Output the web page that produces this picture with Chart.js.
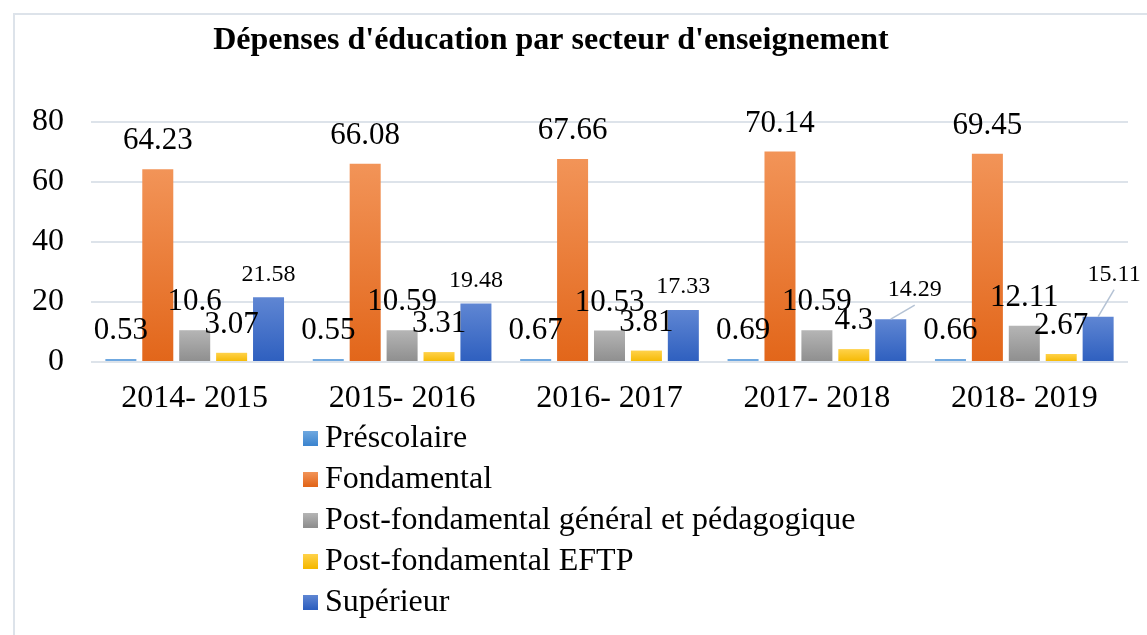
<!DOCTYPE html>
<html lang="fr">
<head>
    <meta charset="UTF-8">
    <title>Dépenses d'éducation par secteur d'enseignement</title>
    <script src="https://cdn.jsdelivr.net/npm/chart.js"></script>
    <style>
        html, body { margin: 0; padding: 0; background: #fff; }
        .chart-box { position: relative; width: 1147px; height: 635px; }
    </style>
</head>
<body>
    <div class="chart-box">
        <canvas id="depensesChart" width="1147" height="635"></canvas>
    </div>

    <script>
        // Data
        const years = ['2014- 2015', '2015- 2016', '2016- 2017', '2017- 2018', '2018- 2019'];
        const prescolaire = [0.53, 0.55, 0.67, 0.69, 0.66];
        const fondamental = [64.23, 66.08, 67.66, 70.14, 69.45];
        const postGeneral = [10.6, 10.59, 10.53, 10.59, 12.11];
        const postEftp = [3.07, 3.31, 3.81, 4.3, 2.67];
        const superieur = [21.58, 19.48, 17.33, 14.29, 15.11];
        const yTicks = [0, 20, 40, 60, 80];

        const seriesNames = ['Préscolaire', 'Fondamental', 'Post-fondamental général et pédagogique', 'Post-fondamental EFTP', 'Supérieur'];
        // [top colour, bottom colour] of each bar gradient
        const seriesColors = [
            ['#6fa8e0', '#3d85cf'],
            ['#f29458', '#e2661a'],
            ['#b5b5b5', '#8e8e8e'],
            ['#ffd24a', '#f5b800'],
            ['#5f86d3', '#2e5fbf']
        ];

        const SERIF = '"Liberation Serif", "Times New Roman", serif';

        // label moves for the two Supérieur values that carry a leader line
        const supLabelShift = [null, null, null, [24, -6], [16, -19]];

        function barGradient(i) {
            return function(ctx) {
                const chart = ctx.chart;
                const y = chart.scales && chart.scales.y;
                if (!y || ctx.dataIndex === undefined) return seriesColors[i][1];
                const v = ctx.dataset.data[ctx.dataIndex];
                const top = y.getPixelForValue(v);
                const base = y.getPixelForValue(0);
                if (!isFinite(top) || !isFinite(base) || base - top < 4) return seriesColors[i][0];
                const g = chart.ctx.createLinearGradient(0, top, 0, base);
                g.addColorStop(0, seriesColors[i][0]);
                g.addColorStop(1, seriesColors[i][1]);
                return g;
            };
        }

        const allSeries = [prescolaire, fondamental, postGeneral, postEftp, superieur];

        // frame, title, value labels and the vertical legend
        const decorPlugin = {
            id: 'decor',
            beforeDraw(chart) {
                const c = chart.ctx;
                c.save();
                c.strokeStyle = '#dde3ea';
                c.lineWidth = 2;
                c.beginPath();
                c.moveTo(14, chart.height);
                c.lineTo(14, 14);
                c.lineTo(chart.width, 14);
                c.stroke();
                c.restore();
            },
            afterDraw(chart) {
                const c = chart.ctx;
                c.save();

                // title
                c.fillStyle = '#000';
                c.font = 'bold 32px ' + SERIF;
                c.textAlign = 'center';
                c.textBaseline = 'alphabetic';
                c.fillText("Dépenses d'éducation par secteur d'enseignement", 551, 49);

                // value labels
                chart.data.datasets.forEach((ds, i) => {
                    const meta = chart.getDatasetMeta(i);
                    meta.data.forEach((bar, j) => {
                        const small = i === 4;
                        let x = bar.x;
                        let y = bar.y - (small ? 23 : 28);
                        const shift = small ? supLabelShift[j] : null;
                        if (shift) {
                            x += shift[0];
                            y += shift[1];
                            c.strokeStyle = '#b4c2d4';
                            c.lineWidth = 1.5;
                            c.beginPath();
                            c.moveTo(bar.x, bar.y);
                            c.lineTo(x, y + 15);
                            c.stroke();
                        }
                        c.font = (small ? '24px ' : '31px ') + SERIF;
                        c.fillStyle = '#000';
                        c.textAlign = 'center';
                        c.textBaseline = 'middle';
                        c.fillText(String(ds.data[j]), x, y);
                    });
                });

                // legend, one item per line
                c.font = '32px ' + SERIF;
                c.textAlign = 'left';
                c.textBaseline = 'middle';
                seriesNames.forEach((name, i) => {
                    const cy = 438 + i * 41;
                    const g = c.createLinearGradient(0, cy - 7, 0, cy + 7);
                    g.addColorStop(0, seriesColors[i][0]);
                    g.addColorStop(1, seriesColors[i][1]);
                    c.fillStyle = g;
                    c.fillRect(303, cy - 7, 15, 15);
                    c.fillStyle = '#000';
                    c.fillText(name, 325, cy + 1);
                });
                c.restore();
            }
        };

        new Chart(document.getElementById('depensesChart'), {
            type: 'bar',
            data: {
                labels: years,
                datasets: seriesNames.map((name, i) => ({
                    label: name,
                    data: allSeries[i],
                    backgroundColor: barGradient(i),
                    borderWidth: 0,
                    minBarLength: 3,
                    categoryPercentage: 0.89,
                    barPercentage: 0.84
                }))
            },
            options: {
                responsive: false,
                animation: false,
                layout: { padding: { top: 122, right: 19, bottom: 0, left: 0 } },
                plugins: {
                    legend: { display: false },
                    title: { display: false },
                    tooltip: { enabled: false }
                },
                scales: {
                    x: {
                        grid: { display: false, drawTicks: false },
                        border: { display: false },
                        ticks: {
                            color: '#000',
                            padding: 17,
                            font: { family: SERIF, size: 32 }
                        },
                        afterFit(scale) { scale.height = 273; }
                    },
                    y: {
                        min: 0,
                        max: 80,
                        afterBuildTicks(scale) {
                            scale.ticks = yTicks.map(v => ({ value: v }));
                        },
                        grid: { color: '#dde3ea', lineWidth: 2, drawTicks: false },
                        border: { display: false },
                        ticks: {
                            color: '#000',
                            padding: 27,
                            font: { family: SERIF, size: 32 }
                        },
                        afterFit(scale) { scale.width = 91; }
                    }
                }
            },
            plugins: [decorPlugin]
        });
    </script>
</body>
</html>
